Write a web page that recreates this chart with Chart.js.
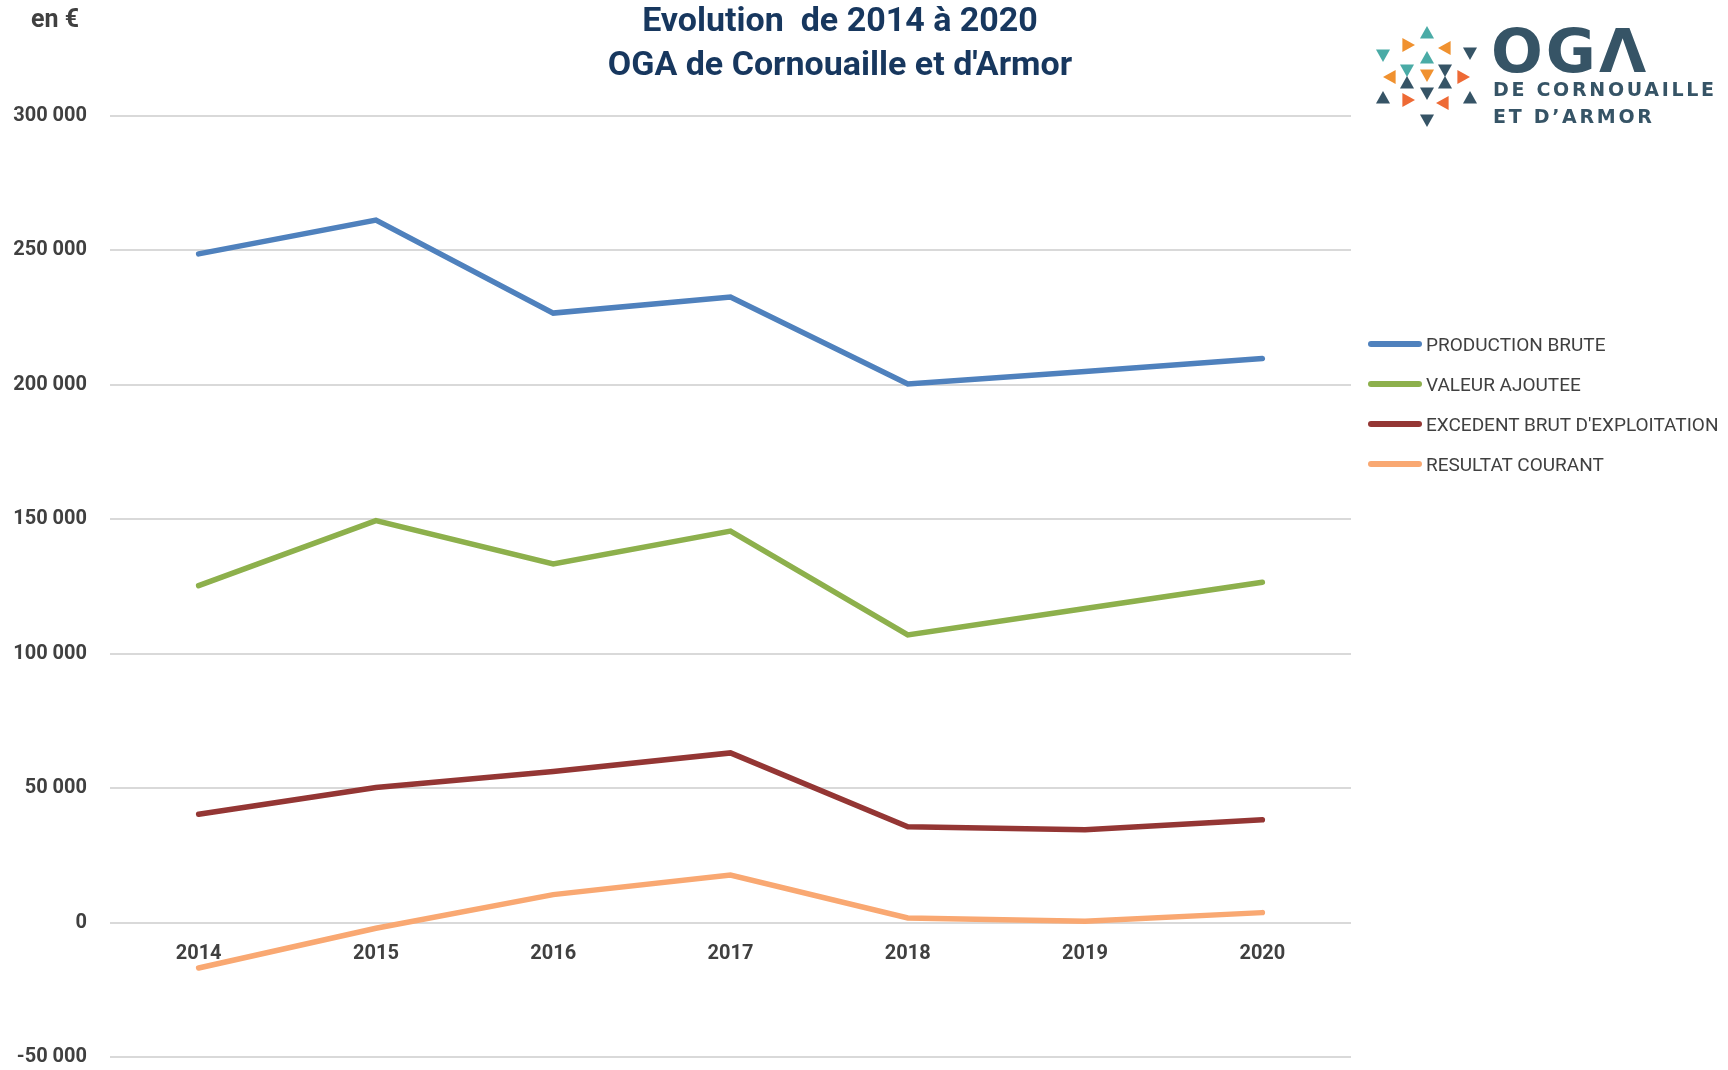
<!DOCTYPE html>
<html lang="fr">
<head>
<meta charset="utf-8">
<title>Evolution de 2014 à 2020 - OGA de Cornouaille et d'Armor</title>
<script src="https://cdn.jsdelivr.net/npm/chart.js@4.4.1/dist/chart.umd.min.js"></script>
<style>
    body { margin: 0; background: #fff; }
    #wrap { position: relative; width: 1728px; height: 1070px; font-family: Roboto, 'Open Sans', sans-serif; }
    #chart { position: absolute; left: 0; top: 0; }
    .title { position: absolute; left: 490px; width: 700px; text-align: center; color: #17375E; font-weight: bold; font-size: 34px; line-height: 40px; white-space: pre; }
    #unit { position: absolute; left: 31px; top: 4px; color: #404040; font-weight: bold; font-size: 25px; }
    #legend { position: absolute; left: 1368px; top: 324px; }
    .item { display: flex; align-items: center; color: #404040; font-size: 19px; height: 40px; white-space: nowrap; }
    .item span { display: inline-block; width: 54px; height: 6px; border-radius: 3px; margin-right: 4px; }
    #logo { position: absolute; left: 1370px; top: 22px; width: 358px; height: 110px; }
    .oga { position: absolute; left: 121px; top: -7px; font-family: 'DejaVu Sans', sans-serif; font-weight: bold; font-size: 61px; color: #365466; letter-spacing: 3px; }
    .sub { position: absolute; left: 123px; font-family: 'DejaVu Sans', sans-serif; font-weight: bold; font-size: 19px; color: #365466; letter-spacing: 2.7px; }
</style>
</head>
<body>
<div id="wrap">
    <canvas id="chart" width="1728" height="1070"></canvas>
    <div id="unit">en €</div>
    <div class="title" style="top: -1px;">Evolution  de 2014 à 2020</div>
    <div class="title" style="top: 43px;">OGA de Cornouaille et d'Armor</div>
    <div id="legend"></div>
    <div id="logo">
        <svg width="110" height="110" style="position:absolute;left:0;top:0" id="marks"></svg>
        <div class="oga">OGΛ</div>
        <div class="sub" style="top: 56px;">DE CORNOUAILLE</div>
        <div class="sub" style="top: 83px;">ET D’ARMOR</div>
    </div>
</div>
<script>
const years = ['2014', '2015', '2016', '2017', '2018', '2019', '2020'];
const productionBrute = [248700, 261300, 226700, 232700, 200300, 205000, 209800];
const valeurAjoutee = [125300, 149500, 133400, 145600, 107000, 116800, 126600];
const excedentBrut = [40300, 50200, 56200, 63100, 35600, 34500, 38200];
const resultatCourant = [-16900, -2100, 10400, 17700, 1700, 500, 3700];
const seriesNames = ['PRODUCTION BRUTE', 'VALEUR AJOUTEE', "EXCEDENT BRUT D'EXPLOITATION", 'RESULTAT COURANT'];
const seriesColors = ['#4F81BD', '#8DB04C', '#943634', '#F9A872'];
const yMin = -50000, yMax = 300000, yStep = 50000;

const font = "Roboto, 'Open Sans', sans-serif";

function formatThousands(v) {
    const s = Math.abs(v).toString().replace(/\B(?=(\d{3})+(?!\d))/g, ' ');
    return (v < 0 ? '-' : '') + s;
}

const allSeries = [productionBrute, valeurAjoutee, excedentBrut, resultatCourant];

new Chart(document.getElementById('chart'), {
    type: 'line',
    data: {
        labels: years,
        datasets: allSeries.map((values, i) => ({
            label: seriesNames[i],
            data: values,
            borderColor: seriesColors[i],
            backgroundColor: seriesColors[i],
            borderWidth: 5.5,
            pointRadius: 0,
            tension: 0,
            borderCapStyle: 'round',
            borderJoinStyle: 'miter'
        }))
    },
    options: {
        responsive: false,
        animation: false,
        layout: { padding: { top: 116, right: 377, bottom: 13, left: 0 } },
        plugins: {
            legend: { display: false },
            tooltip: { enabled: false }
        },
        scales: {
            y: {
                min: yMin,
                max: yMax,
                ticks: {
                    stepSize: yStep,
                    color: '#404040',
                    padding: 23,
                    font: { family: font, weight: 'bold', size: 20 },
                    callback: v => formatThousands(v)
                },
                grid: { color: '#D9D9D9', lineWidth: 2, drawTicks: false },
                border: { display: false },
                afterFit: scale => {
                    scale.width = 110;
                    // tick padding is horizontal here, don't let it eat vertical room
                    scale.paddingTop = 12;
                    scale.paddingBottom = 12;
                }
            },
            x: {
                position: { y: 0 },
                offset: true,
                ticks: {
                    color: '#404040',
                    padding: 19,
                    maxRotation: 0,
                    font: { family: font, weight: 'bold', size: 20 }
                },
                grid: { display: false, drawTicks: false },
                border: { display: false },
                afterFit: scale => { scale.height = 0; }
            }
        }
    }
});

// legend
const legend = document.getElementById('legend');
seriesNames.forEach((name, i) => {
    legend.innerHTML += `<div class="item"><span style="background:${seriesColors[i]}"></span>${name}</div>`;
});

// logo triangles
const tri = [
    [57, 11, 'up', '#4AABA6'], [13, 33, 'down', '#4AABA6'], [38, 23, 'right', '#F0912F'], [75, 26, 'left', '#F0912F'],
    [100, 31, 'down', '#365466'], [57, 36, 'up', '#4AABA6'], [37, 48, 'down', '#4AABA6'], [75, 48, 'down', '#365466'],
    [20, 55, 'left', '#F0912F'], [57, 53, 'down', '#F0912F'], [93, 55, 'right', '#EE6A35'], [37, 61, 'up', '#365466'],
    [75, 61, 'up', '#365466'], [57, 71, 'down', '#365466'], [13, 76, 'up', '#365466'], [38, 78, 'right', '#EE6A35'],
    [73, 81, 'left', '#EE6A35'], [100, 76, 'up', '#365466'], [57, 98, 'down', '#365466']
];
const svg = document.getElementById('marks');
tri.forEach(([cx, cy, dir, c]) => {
    const r = 7;
    let pts;
    if (dir === 'up') pts = [[cx, cy - r], [cx + r, cy + r * 0.8], [cx - r, cy + r * 0.8]];
    else if (dir === 'down') pts = [[cx, cy + r], [cx + r, cy - r * 0.8], [cx - r, cy - r * 0.8]];
    else if (dir === 'left') pts = [[cx - r, cy], [cx + r * 0.8, cy - r], [cx + r * 0.8, cy + r]];
    else pts = [[cx + r, cy], [cx - r * 0.8, cy - r], [cx - r * 0.8, cy + r]];
    svg.innerHTML += `<polygon points="${pts.map(p => p.join(',')).join(' ')}" fill="${c}"/>`;
});
</script>
</body>
</html>
